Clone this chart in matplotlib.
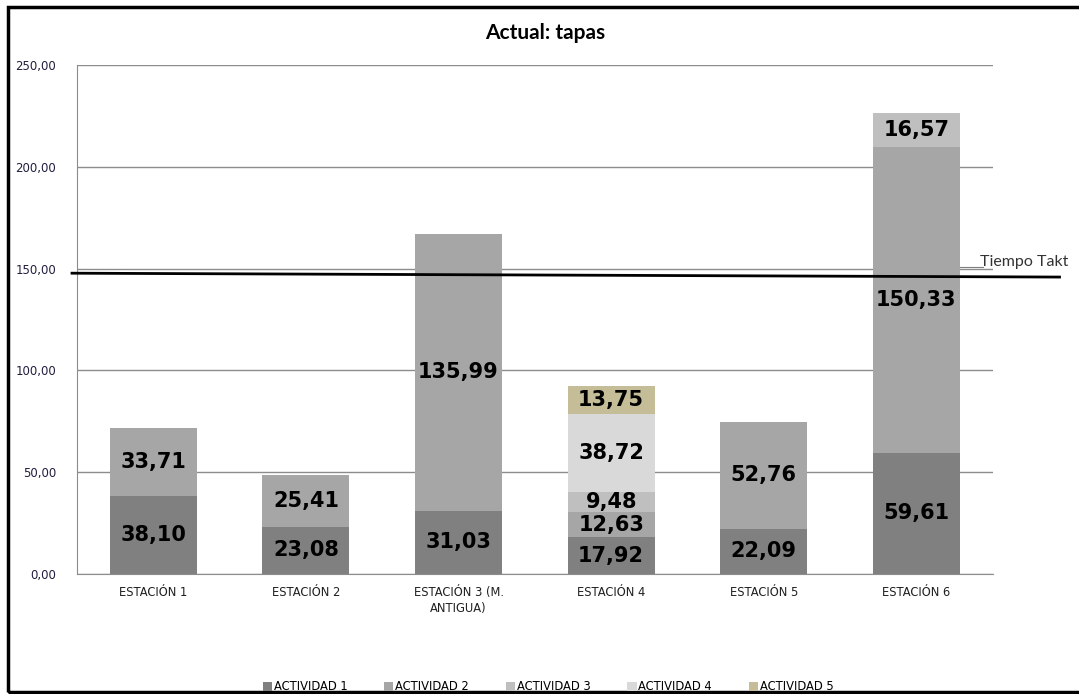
import numpy as np
import matplotlib.pyplot as plt
from matplotlib.patches import Rectangle

estaciones = ["ESTACIÓN 1", "ESTACIÓN 2", "ESTACIÓN 3 (M.\nANTIGUA)", "ESTACIÓN 4", "ESTACIÓN 5", "ESTACIÓN 6"]
act1 = [38.10, 23.08, 31.03, 17.92, 22.09, 59.61]
act2 = [33.71, 25.41, 135.99, 12.63, 52.76, 150.33]
act3 = [0, 0, 0, 9.48, 0, 16.57]
act4 = [0, 0, 0, 38.72, 0, 0]
act5 = [0, 0, 0, 13.75, 0, 0]
series = [act1, act2, act3, act4, act5]
nombres = ["ACTIVIDAD 1", "ACTIVIDAD 2", "ACTIVIDAD 3", "ACTIVIDAD 4", "ACTIVIDAD 5"]
colores = ["#808080", "#a6a6a6", "#bfbfbf", "#d9d9d9", "#c4bd97"]
yticks = [0, 50, 100, 150, 200, 250]
takt = (147.8, 145.9)  # linea dibujada a mano, algo inclinada

fig = plt.figure(figsize=(10.79, 6.94), dpi=100)
ax = fig.add_axes([0.0714, 0.173, 0.8486, 0.733])

x = np.arange(len(estaciones))
base = np.zeros(len(estaciones))
for vals, nom, col in zip(series, nombres, colores):
    vals = np.array(vals)
    bars = ax.bar(x, vals, 0.57, bottom=base, color=col, label=nom, zorder=2)
    for xi, v, b in zip(x, vals, base):
        if v > 0:
            ax.text(xi, b + v / 2, f"{v:.2f}".replace(".", ","), ha="center", va="center",
                    fontsize=15, fontweight="bold", color="black", zorder=4)
    base += vals

ax.set_xlim(-0.5, 5.5)
ax.set_ylim(0, 250)
ax.set_yticks(yticks)
ax.set_yticklabels([f"{t:.2f}".replace(".", ",") for t in yticks], fontsize=8.5, color="#1f1f3f")
ax.set_xticks(x)
ax.set_xticklabels(estaciones, fontsize=8.3, color="#1f1f1f", linespacing=1.3)
ax.tick_params(axis="both", length=0)
ax.tick_params(axis="y", pad=15)
ax.tick_params(axis="x", pad=9)
ax.yaxis.grid(True, color="#8c8c8c", linewidth=1, zorder=0)
ax.set_axisbelow(True)
for s in ["top", "right"]:
    ax.spines[s].set_visible(False)
ax.spines["left"].set_color("#8c8c8c")
ax.spines["bottom"].set_color("#8c8c8c")

# tiempo takt
ax.plot([-0.533, 5.938], takt, color="black", linewidth=2, clip_on=False, zorder=3)
ax.plot([5.284, 5.435], [150.8, 150.8], color="#7f7f7f", linewidth=0.8, clip_on=False)
ax.text(5.42, 153.5, "Tiempo Takt", fontsize=11.5, color="#333333", va="center", ha="left",
        family="Lato")

fig.text(0.505, 0.952, "Actual: tapas", ha="center", va="center", fontsize=15,
         fontweight="bold", family="Lato")

fig.legend(loc="lower center", bbox_to_anchor=(0.508, -0.014), ncol=5, frameon=False,
           fontsize=8.3, handlelength=0.8, handleheight=0.8, handletextpad=0.15,
           columnspacing=3.2)

fig.patches.append(Rectangle((8 / 1079, 2 / 694), 1.1, 685 / 694, transform=fig.transFigure,
                             fill=False, edgecolor="black", linewidth=2.5))

fig.savefig("out.png", dpi=100)
